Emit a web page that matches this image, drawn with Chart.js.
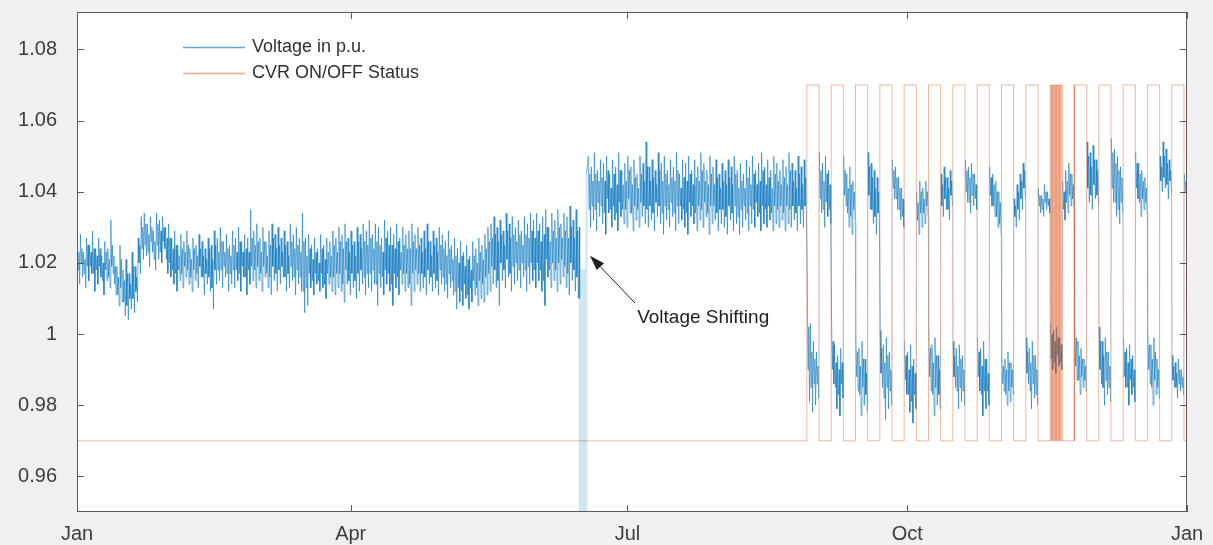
<!DOCTYPE html>
<html>
<head>
<meta charset="utf-8">
<title>Voltage in p.u. and CVR ON/OFF Status</title>
<script src="https://cdn.jsdelivr.net/npm/chart.js@4.4.1/dist/chart.umd.min.js"></script>
<style>
  html, body { margin: 0; padding: 0; background: #f0f0f0; }
  #wrap { width: 1213px; height: 545px; }
</style>
</head>
<body>
<div id="wrap"><canvas id="chart" width="1213" height="545"></canvas></div>
<script>
// x axis is day of year, 0 = 1 Jan, 365 = 1 Jan next year
const monthTickDays = [0, 90, 181, 273, 365];
const monthTickLabels = ['Jan', 'Apr', 'Jul', 'Oct', 'Jan'];
const voltageTicks = [0.96, 0.98, 1, 1.02, 1.04, 1.06, 1.08];
const voltageTickLabels = ['0.96', '0.98', '1', '1.02', '1.04', '1.06', '1.08'];

// voltage trace (p.u.), four readings per day:
// daily high, inner low, inner high, daily low
const dailyMax = [
    1.026, 1.028, 1.023, 1.027, 1.025, 1.029, 1.024, 1.027, 1.022, 1.026,
    1.024, 1.032, 1.022, 1.019, 1.025, 1.018, 1.021, 1.017, 1.023, 1.019,
    1.027, 1.033, 1.034, 1.031, 1.033, 1.029, 1.034, 1.032, 1.033, 1.030,
    1.031, 1.027, 1.029, 1.025, 1.028, 1.026, 1.029, 1.024, 1.027, 1.025,
    1.028, 1.026, 1.024, 1.027, 1.025, 1.029, 1.027, 1.030, 1.026, 1.028,
    1.025, 1.029, 1.027, 1.030, 1.026, 1.028, 1.027, 1.035, 1.029, 1.031,
    1.027, 1.030, 1.026, 1.029, 1.031, 1.028, 1.030, 1.027, 1.029, 1.026,
    1.031, 1.028, 1.030, 1.027, 1.034, 1.027, 1.028, 1.025, 1.027, 1.024,
    1.028, 1.025, 1.027, 1.026, 1.029, 1.027, 1.030, 1.028, 1.031, 1.027,
    1.029, 1.026, 1.030, 1.028, 1.031, 1.029, 1.032, 1.028, 1.031, 1.030,
    1.027, 1.032, 1.029, 1.030, 1.028, 1.031, 1.027, 1.030, 1.028, 1.029,
    1.031, 1.028, 1.030, 1.027, 1.029, 1.031, 1.026, 1.029, 1.027, 1.030,
    1.028, 1.026, 1.029, 1.025, 1.027, 1.024, 1.026, 1.023, 1.025, 1.022,
    1.026, 1.024, 1.027, 1.025, 1.028, 1.030, 1.031, 1.033, 1.030, 1.032,
    1.029, 1.034, 1.031, 1.033, 1.030, 1.032, 1.029, 1.033, 1.031, 1.034,
    1.032, 1.034, 1.031, 1.033, 1.035, 1.030, 1.034, 1.032, 1.035, 1.031,
    1.034, 1.033, 1.036, 1.032, 1.035, null, null, null, 1.050, 1.047,
    1.051, 1.046, 1.049, 1.048, 1.050, 1.045, 1.049, 1.047, 1.051, 1.046,
    1.048, 1.050, 1.047, 1.049, 1.045, 1.050, 1.048, 1.054, 1.047, 1.049,
    1.046, 1.051, 1.048, 1.050, 1.046, 1.049, 1.047, 1.051, 1.045, 1.049,
    1.048, 1.050, 1.046, 1.049, 1.047, 1.051, 1.048, 1.046, 1.050, 1.047,
    1.049, 1.045, 1.048, 1.046, 1.049, 1.047, 1.050, 1.046, 1.048, 1.045,
    1.049, 1.047, 1.050, 1.046, 1.048, 1.051, 1.047, 1.049, 1.046, 1.050,
    1.048, 1.046, 1.049, 1.047, 1.051, 1.048, 1.046, 1.050, 1.047, 1.049,
    1.016, 1.003, 0.998, 0.995, 1.051, 1.048, 1.050, 1.046, 1.004, 0.997,
    0.994, 0.996, 1.050, 1.045, 1.047, 1.043, 1.000, 0.996, 0.998, 0.993,
    1.051, 1.048, 1.046, 1.044, 1.001, 0.997, 0.999, 0.995, 1.049, 1.047,
    1.044, 1.041, 0.998, 0.995, 0.997, 0.993, 1.040, 1.043, 1.041, 1.043,
    1.001, 0.997, 0.999, 0.994, 1.045, 1.047, 1.044, 1.046, 0.998, 0.996,
    0.997, 0.994, 1.049, 1.047, 1.048, 1.045, 0.999, 0.996, 0.998, 0.993,
    1.047, 1.045, 1.043, 1.040, 0.994, 0.993, 0.995, 0.992, 1.038, 1.042,
    1.045, 1.048, 0.999, 0.996, 0.998, 0.994, 1.041, 1.039, 1.042, 1.040,
    1.003, 1.001, 1.002, 0.999, 1.043, 1.046, 1.048, 1.045, 1.003, 0.998,
    0.996, 0.993, 1.054, 1.051, 1.053, 1.049, 1.002, 0.998, 0.999, 0.995,
    1.055, 1.052, 1.050, 1.047, 0.999, 0.996, 0.997, 0.994, 1.051, 1.048,
    1.046, 1.044, 1.001, 0.997, 0.999, 0.993, 1.050, 1.054, 1.052, 1.049,
    0.994, 0.992, 0.993, 0.990, 1.045
];

const dailyInnerLow = [
    1.018, 1.020, 1.017, 1.019, 1.019, 1.017, 1.018, 1.019, 1.015, 1.018,
    1.016, 1.019, 1.014, 1.011, 1.013, 1.009, 1.008, 1.010, 1.010, 1.012,
    1.020, 1.024, 1.025, 1.023, 1.026, 1.021, 1.025, 1.023, 1.026, 1.021,
    1.020, 1.018, 1.017, 1.018, 1.017, 1.019, 1.018, 1.016, 1.018, 1.017,
    1.019, 1.016, 1.017, 1.016, 1.013, 1.018, 1.018, 1.018, 1.019, 1.017,
    1.017, 1.018, 1.018, 1.017, 1.019, 1.016, 1.018, 1.019, 1.018, 1.019,
    1.017, 1.019, 1.017, 1.016, 1.019, 1.017, 1.018, 1.019, 1.016, 1.017,
    1.019, 1.016, 1.018, 1.016, 1.012, 1.013, 1.017, 1.015, 1.017, 1.015,
    1.017, 1.014, 1.017, 1.016, 1.016, 1.017, 1.017, 1.014, 1.018, 1.015,
    1.017, 1.015, 1.017, 1.018, 1.016, 1.017, 1.017, 1.018, 1.014, 1.017,
    1.016, 1.018, 1.017, 1.014, 1.017, 1.016, 1.018, 1.017, 1.017, 1.014,
    1.017, 1.018, 1.017, 1.017, 1.016, 1.018, 1.016, 1.017, 1.015, 1.018,
    1.016, 1.014, 1.017, 1.015, 1.012, 1.013, 1.012, 1.014, 1.011, 1.013,
    1.015, 1.013, 1.015, 1.014, 1.016, 1.017, 1.019, 1.018, 1.015, 1.020,
    1.018, 1.021, 1.017, 1.019, 1.020, 1.018, 1.020, 1.018, 1.019, 1.020,
    1.018, 1.020, 1.018, 1.015, 1.021, 1.018, 1.020, 1.018, 1.020, 1.021,
    1.019, 1.017, 1.020, 1.018, 1.016, null, null, null, 1.035, 1.036,
    1.035, 1.037, 1.036, 1.034, 1.038, 1.035, 1.036, 1.034, 1.037, 1.035,
    1.035, 1.038, 1.034, 1.036, 1.035, 1.037, 1.036, 1.035, 1.036, 1.034,
    1.037, 1.036, 1.034, 1.036, 1.035, 1.037, 1.034, 1.036, 1.036, 1.035,
    1.034, 1.037, 1.036, 1.034, 1.036, 1.035, 1.037, 1.034, 1.036, 1.036,
    1.034, 1.035, 1.035, 1.033, 1.036, 1.034, 1.036, 1.033, 1.035, 1.036,
    1.034, 1.036, 1.035, 1.037, 1.034, 1.036, 1.035, 1.036, 1.034, 1.036,
    1.035, 1.036, 1.034, 1.036, 1.035, 1.036, 1.034, 1.036, 1.035, 1.036,
    0.990, 0.985, 0.986, 0.986, 1.038, 1.035, 1.037, 1.035, 0.990, 0.985,
    0.983, 0.986, 1.039, 1.034, 1.033, 1.035, 0.988, 0.983, 0.985, 0.983,
    1.039, 1.035, 1.033, 1.034, 0.989, 0.982, 0.985, 0.984, 1.041, 1.038,
    1.035, 1.033, 0.987, 0.983, 0.981, 0.983, 1.032, 1.034, 1.034, 1.036,
    0.988, 0.983, 0.985, 0.983, 1.036, 1.038, 1.035, 1.039, 0.988, 0.984,
    0.985, 0.984, 1.040, 1.037, 1.039, 1.038, 0.988, 0.983, 0.984, 0.984,
    1.039, 1.036, 1.033, 1.031, 0.986, 0.983, 0.984, 0.985, 1.033, 1.035,
    1.038, 1.041, 0.989, 0.984, 0.986, 0.983, 1.036, 1.035, 1.037, 1.036,
    0.993, 0.992, 0.994, 0.992, 1.035, 1.037, 1.039, 1.038, 0.991, 0.987,
    0.988, 0.987, 1.041, 1.039, 1.042, 1.039, 0.990, 0.985, 0.987, 0.985,
    1.041, 1.037, 1.035, 1.037, 0.988, 0.985, 0.987, 0.985, 1.041, 1.037,
    1.038, 1.037, 0.990, 0.985, 0.987, 0.985, 1.043, 1.044, 1.042, 1.043,
    0.987, 0.985, 0.986, 0.985, 1.040
];

const dailyInnerHigh = [
    1.023, 1.024, 1.021, 1.025, 1.023, 1.024, 1.022, 1.024, 1.020, 1.023,
    1.021, 1.025, 1.019, 1.016, 1.021, 1.015, 1.017, 1.014, 1.019, 1.016,
    1.025, 1.030, 1.031, 1.028, 1.030, 1.026, 1.031, 1.029, 1.030, 1.027,
    1.027, 1.024, 1.025, 1.022, 1.024, 1.023, 1.025, 1.021, 1.024, 1.022,
    1.024, 1.022, 1.021, 1.024, 1.021, 1.025, 1.023, 1.026, 1.023, 1.024,
    1.022, 1.025, 1.023, 1.026, 1.023, 1.024, 1.023, 1.027, 1.025, 1.026,
    1.023, 1.026, 1.022, 1.025, 1.027, 1.024, 1.025, 1.023, 1.025, 1.022,
    1.026, 1.024, 1.025, 1.023, 1.026, 1.022, 1.024, 1.021, 1.023, 1.020,
    1.024, 1.021, 1.023, 1.022, 1.025, 1.023, 1.026, 1.024, 1.026, 1.023,
    1.025, 1.022, 1.026, 1.024, 1.026, 1.025, 1.027, 1.024, 1.026, 1.025,
    1.023, 1.027, 1.025, 1.025, 1.024, 1.026, 1.023, 1.025, 1.024, 1.024,
    1.026, 1.024, 1.025, 1.023, 1.024, 1.026, 1.022, 1.025, 1.023, 1.025,
    1.024, 1.022, 1.024, 1.021, 1.022, 1.020, 1.022, 1.019, 1.021, 1.018,
    1.022, 1.020, 1.023, 1.021, 1.024, 1.026, 1.027, 1.028, 1.026, 1.028,
    1.025, 1.029, 1.027, 1.028, 1.026, 1.028, 1.025, 1.028, 1.027, 1.029,
    1.027, 1.029, 1.026, 1.028, 1.030, 1.026, 1.029, 1.027, 1.030, 1.027,
    1.029, 1.027, 1.030, 1.027, 1.029, null, null, null, 1.045, 1.043,
    1.045, 1.043, 1.044, 1.043, 1.046, 1.041, 1.045, 1.042, 1.046, 1.042,
    1.043, 1.046, 1.042, 1.044, 1.041, 1.045, 1.043, 1.047, 1.043, 1.044,
    1.042, 1.046, 1.043, 1.045, 1.042, 1.044, 1.043, 1.046, 1.041, 1.044,
    1.043, 1.045, 1.042, 1.044, 1.043, 1.046, 1.043, 1.042, 1.045, 1.042,
    1.044, 1.041, 1.043, 1.042, 1.044, 1.042, 1.045, 1.041, 1.043, 1.041,
    1.044, 1.042, 1.045, 1.042, 1.043, 1.046, 1.042, 1.044, 1.041, 1.045,
    1.043, 1.042, 1.044, 1.042, 1.046, 1.043, 1.041, 1.045, 1.042, 1.044,
    1.002, 0.995, 0.993, 0.991, 1.046, 1.043, 1.045, 1.042, 0.998, 0.992,
    0.990, 0.992, 1.046, 1.041, 1.042, 1.040, 0.995, 0.991, 0.993, 0.989,
    1.047, 1.044, 1.041, 1.040, 0.996, 0.992, 0.994, 0.990, 1.046, 1.044,
    1.041, 1.038, 0.994, 0.990, 0.991, 0.989, 1.037, 1.040, 1.038, 1.040,
    0.996, 0.992, 0.994, 0.990, 1.042, 1.044, 1.041, 1.043, 0.994, 0.991,
    0.993, 0.990, 1.046, 1.044, 1.045, 1.042, 0.995, 0.991, 0.993, 0.989,
    1.044, 1.042, 1.040, 1.037, 0.991, 0.990, 0.992, 0.990, 1.036, 1.040,
    1.043, 1.046, 0.995, 0.992, 0.994, 0.990, 1.039, 1.038, 1.040, 1.038,
    1.000, 0.998, 0.999, 0.997, 1.040, 1.043, 1.045, 1.042, 0.999, 0.994,
    0.993, 0.991, 1.050, 1.047, 1.049, 1.046, 0.998, 0.994, 0.995, 0.991,
    1.051, 1.048, 1.046, 1.044, 0.995, 0.992, 0.993, 0.990, 1.048, 1.045,
    1.043, 1.041, 0.997, 0.993, 0.995, 0.990, 1.047, 1.050, 1.048, 1.046,
    0.991, 0.989, 0.990, 0.988, 1.043
];

const dailyMin = [
    1.014, 1.016, 1.013, 1.015, 1.017, 1.012, 1.014, 1.016, 1.011, 1.015,
    1.013, 1.017, 1.011, 1.008, 1.009, 1.005, 1.004, 1.007, 1.006, 1.009,
    1.017, 1.021, 1.022, 1.019, 1.023, 1.018, 1.021, 1.020, 1.024, 1.017,
    1.016, 1.014, 1.012, 1.015, 1.013, 1.016, 1.014, 1.012, 1.015, 1.013,
    1.016, 1.011, 1.014, 1.012, 1.007, 1.014, 1.015, 1.013, 1.016, 1.012,
    1.014, 1.013, 1.015, 1.012, 1.016, 1.011, 1.014, 1.015, 1.013, 1.015,
    1.012, 1.016, 1.013, 1.011, 1.015, 1.012, 1.014, 1.016, 1.012, 1.013,
    1.015, 1.011, 1.014, 1.012, 1.006, 1.008, 1.013, 1.011, 1.014, 1.012,
    1.013, 1.010, 1.014, 1.012, 1.011, 1.013, 1.012, 1.009, 1.014, 1.011,
    1.013, 1.010, 1.012, 1.014, 1.011, 1.013, 1.012, 1.014, 1.008, 1.013,
    1.011, 1.014, 1.012, 1.008, 1.013, 1.011, 1.014, 1.012, 1.013, 1.008,
    1.012, 1.014, 1.012, 1.013, 1.011, 1.014, 1.012, 1.013, 1.011, 1.014,
    1.012, 1.010, 1.013, 1.011, 1.007, 1.009, 1.008, 1.010, 1.007, 1.009,
    1.011, 1.008, 1.010, 1.009, 1.011, 1.012, 1.014, 1.013, 1.008, 1.015,
    1.013, 1.016, 1.012, 1.014, 1.015, 1.013, 1.016, 1.012, 1.014, 1.015,
    1.013, 1.015, 1.012, 1.008, 1.016, 1.013, 1.015, 1.012, 1.014, 1.016,
    1.013, 1.011, 1.015, 1.012, 1.010, null, null, null, 1.030, 1.032,
    1.029, 1.033, 1.031, 1.028, 1.034, 1.030, 1.032, 1.029, 1.033, 1.031,
    1.030, 1.034, 1.029, 1.032, 1.030, 1.033, 1.031, 1.030, 1.032, 1.029,
    1.033, 1.031, 1.028, 1.032, 1.030, 1.033, 1.029, 1.031, 1.032, 1.030,
    1.028, 1.033, 1.031, 1.029, 1.032, 1.030, 1.033, 1.028, 1.031, 1.032,
    1.029, 1.031, 1.030, 1.028, 1.032, 1.029, 1.031, 1.028, 1.030, 1.032,
    1.029, 1.031, 1.030, 1.033, 1.029, 1.031, 1.030, 1.032, 1.029, 1.031,
    1.030, 1.032, 1.029, 1.031, 1.030, 1.032, 1.029, 1.031, 1.030, 1.032,
    0.981, 0.978, 0.980, 0.982, 1.034, 1.030, 1.033, 1.031, 0.986, 0.979,
    0.977, 0.982, 1.036, 1.030, 1.028, 1.032, 0.984, 0.977, 0.980, 0.978,
    1.035, 1.031, 1.028, 1.030, 0.985, 0.976, 0.979, 0.980, 1.038, 1.035,
    1.032, 1.030, 0.983, 0.978, 0.975, 0.979, 1.028, 1.030, 1.031, 1.033,
    0.984, 0.977, 0.980, 0.979, 1.033, 1.035, 1.032, 1.036, 0.985, 0.979,
    0.981, 0.980, 1.037, 1.034, 1.036, 1.035, 0.984, 0.977, 0.979, 0.980,
    1.036, 1.033, 1.030, 1.028, 0.984, 0.980, 0.981, 0.983, 1.030, 1.032,
    1.035, 1.038, 0.986, 0.979, 0.982, 0.980, 1.034, 1.033, 1.035, 1.034,
    0.990, 0.989, 0.991, 0.990, 1.032, 1.034, 1.036, 1.035, 0.987, 0.983,
    0.985, 0.984, 1.037, 1.035, 1.038, 1.036, 0.986, 0.980, 0.983, 0.981,
    1.037, 1.033, 1.031, 1.034, 0.985, 0.980, 0.983, 0.981, 1.038, 1.033,
    1.035, 1.034, 0.986, 0.980, 0.983, 0.982, 1.040, 1.041, 1.038, 1.040,
    0.985, 0.982, 0.984, 0.983, 1.038
];

// mid-June readings around the outage, where the voltage drops to zero
const outageDays = [165.15, 165.3, 165.45, 165.8, 165.85, 166.25, 166.3, 166.7, 166.75, 167.15, 167.2, 167.55];
const outageValues = [1.030, 1.010, 0, 1.018, 0, 1.018, 0, 1.018, 0, 1.018, 0, 1.045];

// CVR status switching times (day) and level from that time on
const cvrDays = [
    0, 240, 244, 248, 252, 256, 260, 264, 268, 272, 276, 280, 284, 288, 292,
    296, 300, 304, 308, 312, 316,
    320, 320.3, 320.45, 320.75, 320.9, 321.2, 321.35, 321.65, 321.8, 322.1,
    322.25, 322.55, 322.7, 323.0, 323.15, 323.45, 323.6, 324,
    327.9, 327.95, 328, 332, 336, 340, 344, 348, 352, 356, 360, 364, 365
];
const cvrStatus = [
    0.97, 1.07, 0.97, 1.07, 0.97, 1.07, 0.97, 1.07, 0.97, 1.07, 0.97, 1.07, 0.97, 1.07, 0.97,
    1.07, 0.97, 1.07, 0.97, 1.07, 0.97,
    1.07, 0.97, 1.07, 0.97, 1.07, 0.97, 1.07, 0.97, 1.07, 0.97,
    1.07, 0.97, 1.07, 0.97, 1.07, 0.97, 1.07, 0.97,
    1.07, 0.97, 1.07, 0.97, 1.07, 0.97, 1.07, 0.97, 1.07, 0.97, 1.07, 0.97, 0.97
];

const shiftNote = {
    text: 'Voltage Shifting',
    day: 184.2, value: 1.0045,
    fromDay: 183.5, fromValue: 1.0087,
    toDay: 168.7, toValue: 1.022
};

const fontFamily = "'Liberation Sans', Arial, Helvetica, sans-serif";
const voltageColor = 'rgba(0, 114, 189, 0.7)';
const jumpColor = 'rgba(0, 114, 189, 0.22)';
const outageColor = 'rgba(165, 203, 230, 0.5)';
const cvrColor = 'rgba(217, 83, 25, 0.42)';
const legendColors = ['rgba(0, 114, 189, 0.6)', 'rgba(217, 83, 25, 0.5)'];

function buildVoltage() {
    var pts = [];
    dailyMax.forEach(function(hi, day) {
        if (hi === null) return;
        pts.push({ x: day + 0.125, y: hi });
        pts.push({ x: day + 0.375, y: dailyInnerLow[day] });
        pts.push({ x: day + 0.625, y: dailyInnerHigh[day] });
        pts.push({ x: day + 0.875, y: dailyMin[day] });
    });
    outageDays.forEach(function(d, i) {
        pts.push({ x: d, y: outageValues[i] });
    });
    pts.sort(function(a, b) { return a.x - b.x; });
    return pts;
}

function isOutage(ctx) {
    return ctx.p0.parsed.y < 0.5 || ctx.p1.parsed.y < 0.5;
}

// the CVR on/off jumps between the two voltage levels show up faint in the original
function segmentColor(ctx) {
    if (isOutage(ctx)) return outageColor;
    if (Math.abs(ctx.p1.parsed.y - ctx.p0.parsed.y) > 0.03) return jumpColor;
    return undefined;
}

const frame = {
    id: 'frame',
    beforeDraw: function(chart) {
        const c = chart.ctx;
        const a = chart.chartArea;
        c.save();
        c.fillStyle = '#f0f0f0';
        c.fillRect(0, 0, chart.width, chart.height);
        c.fillStyle = '#ffffff';
        c.fillRect(a.left, a.top, a.right - a.left, a.bottom - a.top);
        c.restore();
    },
    afterDraw: function(chart) {
        const c = chart.ctx;
        const a = chart.chartArea;
        const xs = chart.scales.x;
        const ys = chart.scales.y;
        const tick = 7;
        c.save();
        c.strokeStyle = '#5a5a5a';
        c.lineWidth = 1;
        c.strokeRect(a.left + 0.5, a.top + 0.5, a.right - a.left - 1, a.bottom - a.top - 1);
        c.beginPath();
        monthTickDays.forEach(function(d) {
            const px = Math.round(xs.getPixelForValue(d)) + 0.5;
            c.moveTo(px, a.bottom);
            c.lineTo(px, a.bottom - tick);
            c.moveTo(px, a.top);
            c.lineTo(px, a.top + tick);
        });
        voltageTicks.forEach(function(v) {
            const py = Math.round(ys.getPixelForValue(v)) + 0.5;
            c.moveTo(a.left, py);
            c.lineTo(a.left + tick, py);
            c.moveTo(a.right, py);
            c.lineTo(a.right - tick, py);
        });
        c.stroke();

        // legend inside the axes, upper left
        c.font = '18px ' + fontFamily;
        c.textBaseline = 'middle';
        c.textAlign = 'left';
        chart.data.datasets.forEach(function(ds, i) {
            const y = a.top + 35 + i * 26;
            c.strokeStyle = legendColors[i];
            c.lineWidth = 1.5;
            c.beginPath();
            c.moveTo(a.left + 106, y + 0.5);
            c.lineTo(a.left + 168, y + 0.5);
            c.stroke();
            c.fillStyle = '#303030';
            c.fillText(ds.label, a.left + 175, y);
        });

        // annotation with arrow
        const tx = xs.getPixelForValue(shiftNote.day);
        const ty = ys.getPixelForValue(shiftNote.value);
        c.font = '19px ' + fontFamily;
        c.fillStyle = '#202020';
        c.fillText(shiftNote.text, tx, ty);

        const x0 = xs.getPixelForValue(shiftNote.fromDay);
        const y0 = ys.getPixelForValue(shiftNote.fromValue);
        const x1 = xs.getPixelForValue(shiftNote.toDay);
        const y1 = ys.getPixelForValue(shiftNote.toValue);
        const ang = Math.atan2(y1 - y0, x1 - x0);
        const headLen = 15;
        const headHalf = 5;
        const bx = x1 - headLen * Math.cos(ang);
        const by = y1 - headLen * Math.sin(ang);
        c.strokeStyle = '#202020';
        c.lineWidth = 1;
        c.beginPath();
        c.moveTo(x0, y0);
        c.lineTo(bx, by);
        c.stroke();
        c.beginPath();
        c.moveTo(x1, y1);
        c.lineTo(bx + headHalf * Math.sin(ang), by - headHalf * Math.cos(ang));
        c.lineTo(bx - headHalf * Math.sin(ang), by + headHalf * Math.cos(ang));
        c.closePath();
        c.fillStyle = '#202020';
        c.fill();
        c.restore();
    }
};

var chart = new Chart(document.getElementById('chart').getContext('2d'), {
    type: 'line',
    data: {
        datasets: [
            {
                label: 'Voltage in p.u.',
                data: buildVoltage(),
                borderColor: voltageColor,
                borderWidth: 0.8,
                borderJoinStyle: 'round',
                pointRadius: 0,
                tension: 0,
                order: 2,
                segment: {
                    borderColor: segmentColor,
                    borderWidth: function(ctx) { return isOutage(ctx) ? 2 : undefined; }
                }
            },
            {
                label: 'CVR ON/OFF Status',
                data: cvrDays.map(function(d, i) { return { x: d, y: cvrStatus[i] }; }),
                borderColor: cvrColor,
                borderWidth: 1,
                stepped: 'before',
                pointRadius: 0,
                order: 1
            }
        ]
    },
    options: {
        responsive: false,
        devicePixelRatio: 1,
        animation: false,
        events: [],
        layout: { padding: { top: 12, right: 26, left: 0, bottom: 0 } },
        plugins: {
            legend: { display: false },
            tooltip: { enabled: false }
        },
        scales: {
            x: {
                type: 'linear',
                min: 0,
                max: 365,
                grid: { display: false, drawTicks: false },
                border: { display: false },
                afterBuildTicks: function(scale) {
                    scale.ticks = monthTickDays.map(function(v) { return { value: v }; });
                },
                afterFit: function(scale) {
                    scale.height = 33;
                    scale.paddingLeft = 0;
                    scale.paddingRight = 0;
                },
                ticks: {
                    autoSkip: false,
                    maxRotation: 0,
                    padding: 10,
                    color: '#3c3c3c',
                    font: { family: fontFamily, size: 20 },
                    callback: function(value, index) { return monthTickLabels[index]; }
                }
            },
            y: {
                min: 0.95,
                max: 1.0905,
                grid: { display: false, drawTicks: false },
                border: { display: false },
                afterBuildTicks: function(scale) {
                    scale.ticks = voltageTicks.map(function(v) { return { value: v }; });
                },
                afterFit: function(scale) {
                    scale.width = 77;
                    scale.paddingTop = 0;
                    scale.paddingBottom = 0;
                },
                ticks: {
                    autoSkip: false,
                    padding: 20,
                    color: '#3c3c3c',
                    font: { family: fontFamily, size: 20 },
                    callback: function(value, index) { return voltageTickLabels[index]; }
                }
            }
        }
    },
    plugins: [frame]
});
</script>
</body>
</html>
